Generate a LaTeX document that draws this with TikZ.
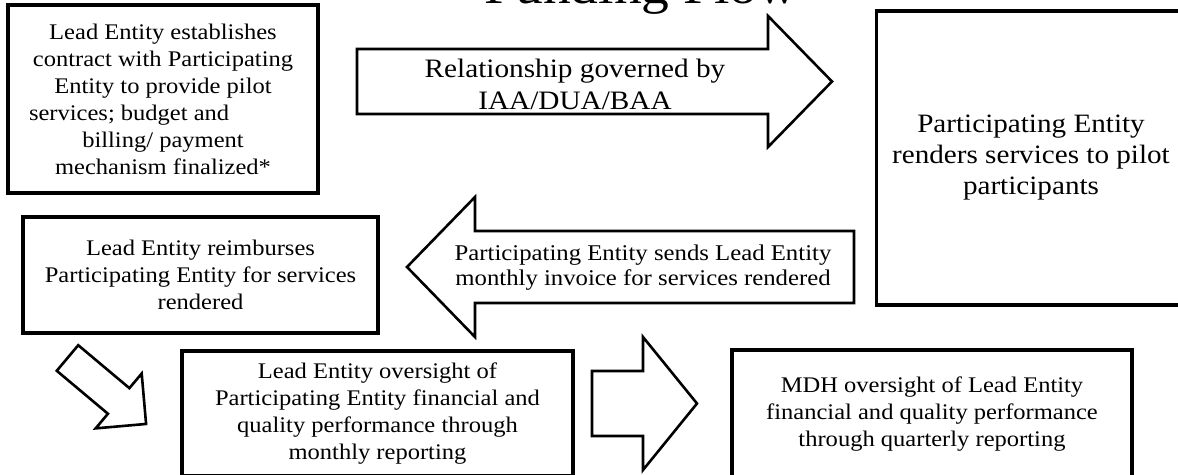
\documentclass[tikz,border=0pt]{standalone}
\usepackage{fontspec}
\setmainfont{Liberation Serif}[FakeStretch=1.1]

\begin{document}
\begin{tikzpicture}[
    x=1pt, y=-1pt,
    box/.style={rectangle, draw, line width=3.2pt, align=center, inner sep=0pt},
    boxtext/.style={font=\fontsize{22.3}{27}\selectfont},
    blockarrow/.style={draw, line width=2.6pt, line join=miter, fill=white},
    arrowtext/.style={align=center, inner sep=0pt}
]
\useasboundingbox (0,0) rectangle (1178,474);

% ---------- title (cut by the top edge) ----------
\node (title) [anchor=base, inner sep=0pt, font=\fontsize{50.5}{60}\selectfont] at (641,3) {Funding Flow};

% ---------- boxes ----------
\node (contract) [box, boxtext, minimum width=310pt, minimum height=188pt] at (163,99)
    {Lead Entity establishes\\ contract with Participating\\ Entity to provide pilot\\
     \makebox[268pt][l]{services; budget and}\\ billing/ payment\\ mechanism finalized*};
\node (services) [box, font=\fontsize{26.5}{31}\selectfont, minimum width=309pt, minimum height=294pt] at (1031,158)
    {Participating Entity\\ renders services to pilot\\ participants};
\node (reimburse) [box, boxtext, minimum width=355pt, minimum height=116pt] at (200.5,275)
    {Lead Entity reimburses\\ Participating Entity for services\\ rendered};
\node (leadcheck) [box, boxtext, minimum width=391pt, minimum height=125pt] at (377.5,413.5)
    {Lead Entity oversight of\\ Participating Entity financial and\\ quality performance through\\ monthly reporting};
\node (mdhcheck) [box, boxtext, minimum width=400pt, minimum height=128pt] at (932,414)
    {MDH oversight of Lead Entity\\ financial and quality performance\\ through quarterly reporting};

% ---------- block arrows ----------
% contract -> services
\draw [blockarrow] (357,49) -- (768,49) -- (768,16) -- (832,81.5) -- (768,147) -- (768,114) -- (357,114) -- cycle;
\node (relation) [arrowtext, font=\fontsize{26.6}{32}\selectfont] at (575,84) {Relationship governed by\\ IAA/DUA/BAA};

% services -> reimburse
\draw [blockarrow] (854,231) -- (475,231) -- (475,197) -- (407,267) -- (475,337) -- (475,303) -- (854,303) -- cycle;
\node (invoice) [arrowtext, font=\fontsize{22.5}{25}\selectfont] at (643,268) {Participating Entity sends Lead Entity\\ monthly invoice for services rendered};

% reimburse -> leadcheck
\begin{scope}[shift={(67.5,358)}, rotate=-40]
\draw [blockarrow] (0,-16.7) -- (66.8,-16.7) -- (66.8,-35.8) -- (102.6,0) -- (66.8,35.8) -- (66.8,16.7) -- (0,16.7) -- cycle;
\end{scope}

% leadcheck -> mdhcheck
\draw [blockarrow] (592,371) -- (643,371) -- (643,337) -- (697,403.5) -- (643,470) -- (643,436) -- (592,436) -- cycle;

\end{tikzpicture}
\end{document}
